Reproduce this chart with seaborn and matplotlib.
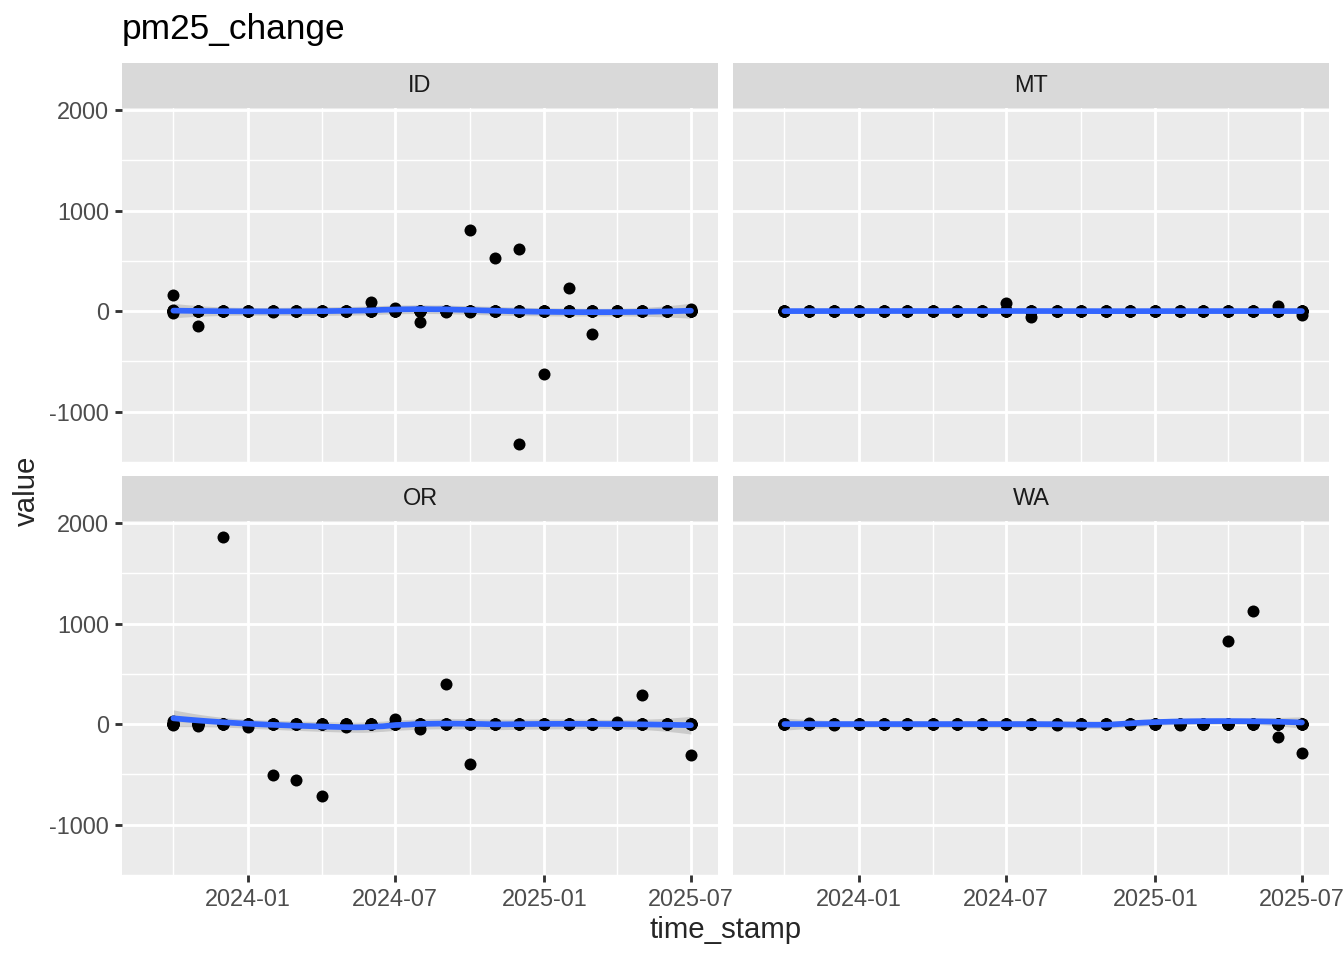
import numpy as np
import pandas as pd
import seaborn as sns
import matplotlib.pyplot as plt
import matplotlib.dates as mdates

# ---- data ------------------------------------------------------------------
MONTHS = ['2023-10-01', '2023-11-01', '2023-12-01', '2024-01-01', '2024-02-01',
          '2024-03-01', '2024-04-01', '2024-05-01', '2024-06-01', '2024-07-01',
          '2024-08-01', '2024-09-01', '2024-10-01', '2024-11-01', '2024-12-01',
          '2025-01-01', '2025-02-01', '2025-03-01', '2025-04-01', '2025-05-01',
          '2025-06-01', '2025-07-01']
AXIS_START = '2023-09-01'   # x scale starts one month before the first point

STATES = ['ID', 'MT', 'OR', 'WA']

# one list of visible values per month
ID_VALUES = [[160, 10, -20], [0, -150], [0], [0], [-5], [0], [0], [0],
             [95, 0], [30, 10], [5, -105], [0, -10], [805, -5], [525, 0],
             [615, 0, -1320], [0, -625], [230, 0], [0, -225], [0], [0], [0],
             [20, 0]]
MT_VALUES = [[0, 5], [0], [0], [0], [0], [0], [0], [0], [0], [80, 10],
             [0, -60], [0], [0], [0], [0], [0], [0], [0], [0], [0],
             [50, 5], [0, -40]]
OR_VALUES = [[30, 0, -10], [0, -20], [1860, 0], [0, -30], [0, -505],
             [0, -560], [0, -715], [0, -30], [0], [55, 5], [0, -45],
             [395, 0], [0, -395], [0], [0], [0], [0], [0], [20],
             [290, 0], [0], [0, -305]]
WA_VALUES = [[0], [10], [-5], [0], [0], [0], [0], [0], [0], [5], [0], [-5],
             [0], [0], [0], [5], [-5], [0], [830, 0], [1120, 0], [-130, 0],
             [-290, 0]]

# sites sitting at ~0 each month, hidden under the same dot
ZERO_SITES_PER_MONTH = 6

MAJOR_DATES = ['2024-01-01', '2024-07-01', '2025-01-01', '2025-07-01']
MINOR_DATES = ['2023-10-01', '2024-04-01', '2024-10-01', '2025-04-01']
Y_MAJOR = [-1000, 0, 1000, 2000]
Y_MINOR = [-1500, -500, 500, 1500]

sns.set_theme(style='white')
plt.rcParams['font.family'] = ['Liberation Sans', 'DejaVu Sans']
plt.rcParams['axes.unicode_minus'] = False

K = 4 / 3   # ggplot text/line scale of the reference


def build_frame():
    rows = []
    for state, vals in zip(STATES, [ID_VALUES, MT_VALUES, OR_VALUES, WA_VALUES]):
        for month, vs in zip(MONTHS, vals):
            for v in vs + [0] * ZERO_SITES_PER_MONTH:
                rows.append({'state': state, 'time_stamp': pd.Timestamp(month),
                             'value': v})
    return pd.DataFrame(rows)


def loess_fit(x, y, grid, span=0.75):
    """local quadratic loess like ggplot's geom_smooth default, with 95% band"""
    n = len(x)
    q = int(np.floor(n * span))

    def row(x0):
        d = np.abs(x - x0)
        h = np.sort(d)[q - 1]
        w = np.clip(1 - (d / h) ** 3, 0, None) ** 3
        X = np.column_stack([np.ones(n), x - x0, (x - x0) ** 2])
        W = X.T * w
        return np.linalg.solve(W @ X, W)[0]

    L = np.array([row(x0) for x0 in x])
    I_L = np.eye(n) - L
    M = I_L.T @ I_L
    d1 = np.trace(M)
    d2 = np.trace(M @ M)
    s = np.sqrt(np.sum((y - L @ y) ** 2) / d1)
    Lg = np.array([row(x0) for x0 in grid])
    fit = Lg @ y
    se = s * np.sqrt(np.sum(Lg ** 2, axis=1))
    df = d1 ** 2 / d2
    z = 1.959964
    t = z + (z ** 3 + z) / (4 * df) + (5 * z ** 5 + 16 * z ** 3 + 3 * z) / (96 * df ** 2)
    return fit, fit - t * se, fit + t * se


def plot_facets(df, salvar_em='out.png'):
    g = sns.FacetGrid(df, col='state', col_wrap=2, col_order=STATES,
                      height=3, aspect=1.6, sharex=True, sharey=True,
                      despine=False)
    g.map_dataframe(sns.scatterplot, x='time_stamp', y='value', color='black',
                    s=36, linewidth=0, zorder=3)

    fig = g.figure
    fig.set_size_inches(1344 / 144, 960 / 144)
    fig.set_dpi(144)

    W, H = 1344, 960
    lefts = [122, 733]
    tops = [108, 521]
    pw, ph = 596, 354
    strip_h = 45

    xmin = mdates.date2num(pd.Timestamp(AXIS_START))
    xmax = mdates.date2num(pd.Timestamp(MONTHS[-1]))
    xpad = (xmax - xmin) * 0.05
    ymin, ymax = df['value'].min(), df['value'].max()
    ypad = (ymax - ymin) * 0.05

    for i, state in enumerate(STATES):
        ax = g.axes_dict[state]
        r, c = divmod(i, 2)
        ax.set_position([lefts[c] / W, 1 - (tops[r] + ph) / H, pw / W, ph / H])
        ax.set_facecolor('#EBEBEB')
        for sp in ax.spines.values():
            sp.set_visible(False)

        sub = df[df['state'] == state]
        x = mdates.date2num(sub['time_stamp'])
        y = sub['value'].to_numpy(dtype=float)
        grid = np.linspace(x.min(), x.max(), 80)
        fit, lo, hi = loess_fit(x, y, grid)
        ax.fill_between(grid, lo, hi, color='#999999', alpha=0.4, lw=0, zorder=2)
        ax.plot(grid, fit, color='#3366FF', lw=2.85, zorder=4)

        ax.set_xlim(xmin - xpad, xmax + xpad)
        ax.set_ylim(ymin - ypad, ymax + ypad)
        ax.set_xticks([mdates.date2num(pd.Timestamp(d)) for d in MAJOR_DATES])
        ax.set_xticks([mdates.date2num(pd.Timestamp(d)) for d in MINOR_DATES],
                      minor=True)
        ax.xaxis.set_major_formatter(mdates.DateFormatter('%Y-%m'))
        ax.set_yticks(Y_MAJOR)
        ax.set_yticks(Y_MINOR, minor=True)
        ax.grid(True, which='major', color='white', lw=1.07 * K)
        ax.grid(True, which='minor', color='white', lw=0.53 * K)
        ax.set_axisbelow(True)
        ax.tick_params(which='major', length=2.75 * K, width=1.07 * K,
                       color='#333333', labelsize=8.8 * K, labelcolor='#4D4D4D',
                       pad=2.2 * K,
                       bottom=(r == 1), labelbottom=(r == 1),
                       left=(c == 0), labelleft=(c == 0))
        ax.tick_params(which='minor', length=0)
        ax.set_title('')
        ax.set_xlabel('')
        ax.set_ylabel('')

        # facet strip
        sax = fig.add_axes([lefts[c] / W, 1 - tops[r] / H, pw / W, strip_h / H])
        sax.set_facecolor('#D9D9D9')
        sax.set_xticks([])
        sax.set_yticks([])
        for sp in sax.spines.values():
            sp.set_visible(False)
        sax.text(0.5, 0.5, state, ha='center', va='center', fontsize=8.8 * K,
                 color='#1A1A1A', transform=sax.transAxes)

    fig.text(122 / W, 1 - 29 / H, 'pm25_change', fontsize=13.2 * K,
             color='black', ha='left', va='center')
    fig.text(726 / W, 1 - 930 / H, 'time_stamp', fontsize=11 * K,
             ha='center', va='center')
    fig.text(27 / W, 1 - 491 / H, 'value', fontsize=11 * K, ha='center',
             va='center', rotation=90)

    fig.savefig(salvar_em, dpi=144, facecolor='white')


def main():
    df = build_frame()
    plot_facets(df)


if __name__ == '__main__':
    main()
